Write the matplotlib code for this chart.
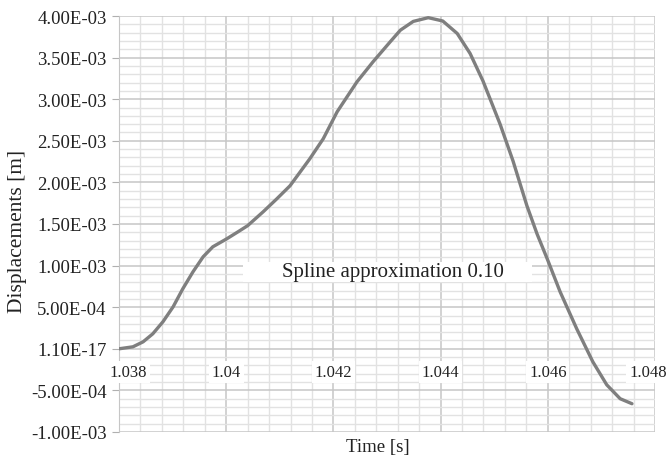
import numpy as np
import matplotlib
matplotlib.use("Agg")
import matplotlib.pyplot as plt
from matplotlib.ticker import MultipleLocator, NullFormatter
from matplotlib.transforms import ScaledTranslation

plt.rcParams["font.family"] = ["Liberation Serif", "DejaVu Serif"]

# valores
timeValues = [1.03800, 1.03826, 1.03845, 1.03863, 1.03882, 1.03901, 1.03919, 1.03938,
              1.03957, 1.03975, 1.04001, 1.04022, 1.04040, 1.04069, 1.04094, 1.04119,
              1.04156, 1.04181, 1.04207, 1.04244, 1.04274, 1.04306, 1.04325, 1.04349,
              1.04377, 1.04404, 1.04431, 1.04455, 1.04479, 1.04511, 1.04535, 1.04561,
              1.04580, 1.04599, 1.04623, 1.04654, 1.04684, 1.04710, 1.04735, 1.04757]
displacements = [0.0, 2.4e-5, 8.4e-5, 1.80e-4, 3.25e-4, 5.05e-4, 7.21e-4, 9.25e-4,
                 1.106e-3, 1.226e-3, 1.322e-3, 1.406e-3, 1.480e-3, 1.647e-3, 1.800e-3, 1.959e-3,
                 2.284e-3, 2.524e-3, 2.849e-3, 3.209e-3, 3.450e-3, 3.690e-3, 3.830e-3, 3.935e-3,
                 3.980e-3, 3.940e-3, 3.790e-3, 3.550e-3, 3.220e-3, 2.700e-3, 2.260e-3, 1.720e-3,
                 1.380e-3, 1.080e-3, 6.85e-4, 2.40e-4, -1.56e-4, -4.33e-4, -6.00e-4, -6.60e-4]

xTicks = [1.038, 1.040, 1.042, 1.044, 1.046, 1.048]
xTickLabels = ["1.038", "1.04", "1.042", "1.044", "1.046", "1.048"]
yTicks = [-1.0e-3, -5.0e-4, 0.0, 5.0e-4, 1.0e-3, 1.5e-3, 2.0e-3, 2.5e-3, 3.0e-3, 3.5e-3, 4.0e-3]
yTickLabels = ["-1.00E-03", "-5.00E-04", "1.10E-17", "5.00E-04", "1.00E-03", "1.50E-03",
               "2.00E-03", "2.50E-03", "3.00E-03", "3.50E-03", "4.00E-03"]
labelText = "Spline approximation 0.10"

fig = plt.figure(figsize=(6.67, 4.6), dpi=100)
ax = fig.add_axes([119 / 667, 27 / 460, 536 / 667, 416 / 460])

ax.set_xlim(1.038, 1.048)
ax.set_ylim(-1.0e-3, 4.0e-3)

# rejilla
ax.xaxis.set_minor_locator(MultipleLocator(0.0004))
ax.yaxis.set_minor_locator(MultipleLocator(0.0001))
ax.grid(which="minor", color="#e2e2e2", linewidth=1.0)
ax.grid(which="major", color="#c6c6c6", linewidth=1.1)
ax.set_axisbelow(True)

ax.plot(timeValues, displacements, color="#7f7f7f", linewidth=2.4,
        solid_capstyle="round", solid_joinstyle="round", zorder=5)

ax.set_xticks(xTicks)
ax.xaxis.set_major_formatter(NullFormatter())
ax.set_yticks(yTicks)
ax.set_yticklabels(yTickLabels, fontsize=13.5)

for side in ["top", "right", "bottom"]:
    ax.spines[side].set_visible(False)
ax.spines["left"].set_color("#c6c6c6")

ax.tick_params(axis="x", which="both", length=0)
ax.tick_params(axis="y", which="major", length=5, color="#b0b0b0", pad=4, labelcolor="#222222")
ax.tick_params(axis="y", which="minor", length=0)

# etiquetas del eje x sobre la linea del cero
shifts = [9, 0, 0, 0, 0, -7]
for xt, txt, dx in zip(xTicks, xTickLabels, shifts):
    t = ax.text(xt, 0, txt, ha="center", va="top", fontsize=12, color="#222222",
                zorder=6, bbox=dict(facecolor="white", edgecolor="none", pad=2),
                transform=ax.transData + ScaledTranslation(dx / 100, -15 / 100, fig.dpi_scale_trans))

# cuadro del texto
ax.add_patch(plt.Rectangle((0.231, 0.361), 0.54, 0.048, transform=ax.transAxes,
                           facecolor="white", edgecolor="none", zorder=3))
ax.text(0.512, 0.386, labelText, transform=ax.transAxes, ha="center", va="center",
        fontsize=15, color="#222222", zorder=4)

fig.text(18 / 667, 1 - 231 / 460, "Displacements [m]", rotation=90, ha="center",
         va="center", fontsize=15.5, color="#222222")
fig.text(378 / 667, 1 - 448 / 460, "Time [s]", ha="center", va="center",
         fontsize=13.5, color="#222222")

fig.savefig("out.png", dpi=100)
